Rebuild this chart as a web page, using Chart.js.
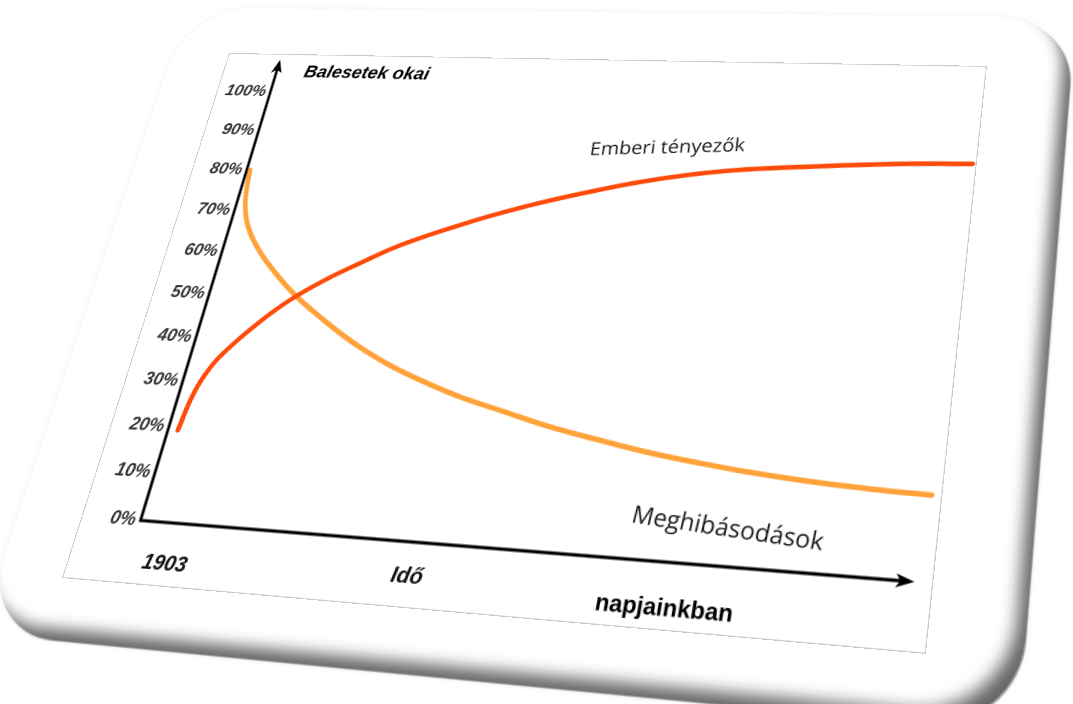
<!DOCTYPE html>
<html lang="hu">
<head>
<meta charset="UTF-8">
<title>Balesetek okai</title>
<script src="https://cdn.jsdelivr.net/npm/chart.js"></script>
<style>
    html, body { margin: 0; padding: 0; background: #fff; overflow: hidden; }
    body { width: 1073px; height: 704px; position: relative; }
    #card {
        position: absolute; left: 0; top: 0;
        width: 946px; height: 675px;
        background: #fff;
        border-radius: 75px;
        box-shadow: inset -14px -16px 14px -6px rgba(0,0,0,0.6),
                    1px 1px 1px rgba(0,0,0,0.4),
                    0 0 6px rgba(0,0,0,0.07);
        transform-origin: 0 0;
    }
    #frame {
        position: absolute; left: 66px; top: 56px;
        width: 800px; height: 563px;
        box-sizing: border-box;
        border: 1.5px solid #c9c9c9;
        pointer-events: none;
    }
    #chart { position: absolute; left: 66px; top: 56px; width: 800px; height: 563px; }
</style>
</head>
<body>
<div id="card">
    <canvas id="chart" width="800" height="563"></canvas>
    <div id="frame"></div>
</div>

<script>
// data (time axis 0..100, share in %)
const humanX = [1.4, 2.0, 3.2, 4.9, 8.3, 12.2, 16.4, 20.4, 24.5, 28.8, 33.1, 37.0, 43.5, 50.0, 56.6, 63.2, 69.8, 77.7, 90.6, 100];
const humanY = [19.4, 27.0, 33.0, 37.5, 44.0, 50.0, 54.9, 58.8, 62.6, 65.8, 68.6, 71.0, 74.5, 77.5, 80.2, 82.3, 83.8, 84.9, 86.3, 86.8];
const failX = [0.5, 1.1, 2.1, 3.4, 5.0, 7.1, 12.0, 18.0, 23.4, 28.6, 33.8, 38.6, 44.2, 51.2, 57.9, 64.5, 70.9, 76.9, 85.0, 93.1, 99.3];
const failY = [80.1, 73.0, 68.2, 64.6, 61.4, 57.9, 51.2, 44.8, 39.8, 35.9, 32.8, 30.3, 28.0, 25.2, 23.1, 21.2, 19.8, 18.7, 17.6, 16.9, 16.6];
const seriesNames = ['Emberi tényezők', 'Meghibásodások'];
const yTickLabels = ['0%', '10%', '20%', '30%', '40%', '50%', '60%', '70%', '80%', '90%', '100%'];
const startLabel = '1903';
const endLabel = 'napjainkban';
const xTitle = 'Idő';
const yTitle = 'Balesetek okai';

// where the flat card lands on the page (corners of the inner frame)
const quad = [[229, 53], [987, 66], [926, 654], [62, 578]];

function squareToQuad(p) {
    const [x0, y0] = p[0], [x1, y1] = p[1], [x2, y2] = p[2], [x3, y3] = p[3];
    const sx = x0 - x1 + x2 - x3, sy = y0 - y1 + y2 - y3;
    const dx1 = x1 - x2, dx2 = x3 - x2, dy1 = y1 - y2, dy2 = y3 - y2;
    const det = dx1 * dy2 - dx2 * dy1;
    const g = (sx * dy2 - dx2 * sy) / det;
    const h = (dx1 * sy - sx * dy1) / det;
    return [x1 - x0 + g * x1, x3 - x0 + h * x3, x0,
            y1 - y0 + g * y1, y3 - y0 + h * y3, y0,
            g, h, 1];
}

function mul(a, b) {
    const r = [];
    for (let i = 0; i < 3; i++)
        for (let j = 0; j < 3; j++)
            r.push(a[i*3] * b[j] + a[i*3+1] * b[3+j] + a[i*3+2] * b[6+j]);
    return r;
}

(function warpCard() {
    const L = 66, T = 56, W = 800, H = 563;
    const s = [1/W, 0, -L/W, 0, 1/H, -T/H, 0, 0, 1];
    const m = mul(squareToQuad(quad), s);
    document.getElementById('card').style.transform =
        `matrix3d(${m[0]},${m[3]},0,${m[6]},${m[1]},${m[4]},0,${m[7]},0,0,1,0,${m[2]},${m[5]},0,${m[8]})`;
})();

const axesAndText = {
    id: 'axesAndText',
    beforeDatasetsDraw(chart) {
        const { ctx, scales: { x, y } } = chart;
        const ox = x.getPixelForValue(0), oy = y.getPixelForValue(0);
        const topY = y.getPixelForValue(108.5);
        const endX = x.getPixelForValue(98.4);
        ctx.save();
        ctx.strokeStyle = '#000';
        ctx.fillStyle = '#000';
        ctx.lineWidth = 3;
        ctx.beginPath();
        ctx.moveTo(ox, topY + 10);
        ctx.lineTo(ox, oy);
        ctx.lineTo(endX - 12, oy);
        ctx.stroke();
        // arrow heads
        ctx.beginPath();
        ctx.moveTo(ox, topY);
        ctx.lineTo(ox - 6, topY + 16);
        ctx.lineTo(ox, topY + 12);
        ctx.lineTo(ox + 6, topY + 16);
        ctx.closePath();
        ctx.fill();
        ctx.beginPath();
        ctx.moveTo(endX, oy);
        ctx.lineTo(endX - 16, oy - 6);
        ctx.lineTo(endX - 12, oy);
        ctx.lineTo(endX - 16, oy + 6);
        ctx.closePath();
        ctx.fill();
        ctx.restore();
    },
    afterDatasetsDraw(chart) {
        const { ctx, scales: { x, y } } = chart;
        const put = (text, vx, vy, font, color, align, rot) => {
            ctx.save();
            ctx.translate(x.getPixelForValue(vx), y.getPixelForValue(vy));
            ctx.rotate((rot || 0) * Math.PI / 180);
            ctx.font = font;
            ctx.fillStyle = color;
            ctx.textAlign = align;
            ctx.textBaseline = 'middle';
            ctx.fillText(text, 0, 0);
            ctx.restore();
        };
        put(yTitle, 4.3, 105.2, 'italic bold 20px "Liberation Sans"', '#000', 'left');
        put(seriesNames[0], 59.4, 88.5, '20px "Open Sans"', '#1a1a1a', 'center', -3.5);
        put(seriesNames[1], 75.5, 7.2, '22px "Open Sans"', '#1a1a1a', 'center', 4);
        put(startLabel, 5.0, -8.4, 'italic bold 20px "Liberation Sans"', '#111', 'center');
        put(xTitle, 37.1, -6.9, 'italic bold 20px "Liberation Sans"', '#111', 'center');
        put(endLabel, 69.5, -8.9, 'bold 21px "Liberation Sans"', '#000', 'center');
    }
};

new Chart(document.getElementById('chart'), {
    type: 'line',
    data: {
        datasets: [{
            label: seriesNames[0],
            data: humanX.map((v, i) => ({ x: v, y: humanY[i] })),
            borderColor: '#ff4b0a',
            borderWidth: 5,
            borderCapStyle: 'round',
            tension: 0.4,
            pointRadius: 0,
            clip: false
        }, {
            label: seriesNames[1],
            data: failX.map((v, i) => ({ x: v, y: failY[i] })),
            borderColor: '#ffa23a',
            borderWidth: 5,
            borderCapStyle: 'round',
            tension: 0.4,
            pointRadius: 0,
            clip: false
        }]
    },
    options: {
        responsive: false,
        animation: false,
        devicePixelRatio: 2,
        layout: { padding: { left: 0, right: 4, top: 46, bottom: 59 } },
        plugins: { legend: { display: false }, tooltip: { enabled: false } },
        scales: {
            x: { type: 'linear', min: 0, max: 100, display: false },
            y: {
                min: 0, max: 100,
                afterFit: (s) => { s.width = 61; },
                grid: { display: false, drawTicks: false },
                border: { display: false },
                ticks: {
                    stepSize: 10,
                    padding: 5,
                    color: '#333',
                    font: { family: 'Liberation Sans', size: 18, style: 'italic', weight: 'bold' },
                    callback: (v, i) => yTickLabels[i]
                }
            }
        }
    },
    plugins: [axesAndText]
});
</script>
</body>
</html>
